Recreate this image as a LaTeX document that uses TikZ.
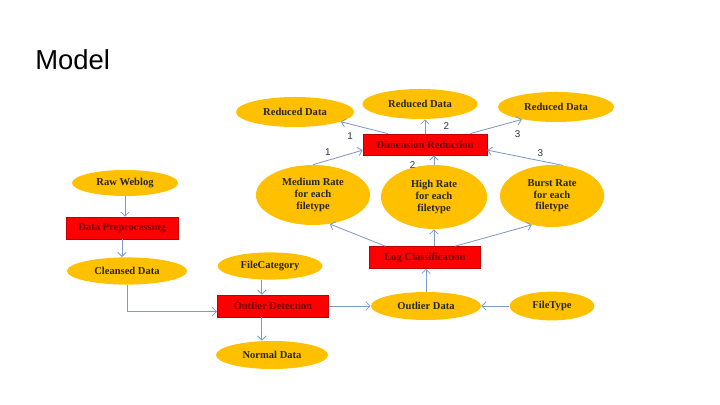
\documentclass[tikz,border=0pt]{standalone}
\usepackage{fontspec}
\setmainfont{Liberation Serif}
\newfontfamily\slidefont{Liberation Sans}
\usetikzlibrary{arrows.meta, shapes.geometric, positioning}
\definecolor{gold}{RGB}{255,192,0}
\definecolor{boxred}{RGB}{255,0,0}
\definecolor{boxtext}{RGB}{110,0,0}
\definecolor{linkblue}{RGB}{126,154,198}

\begin{document}
\begin{tikzpicture}[
        x=0.025cm, y=-0.025cm,
        every node/.style={font=\fontsize{7.5}{8.3}\selectfont\bfseries},
        blob/.style={ellipse, fill=gold, text=black!85, inner sep=0pt, align=center, minimum width=2.8cm, minimum height=0.7cm},
        stage/.style={rectangle, fill=boxred, draw=red!75!black, line width=0.4pt, text=boxtext, inner sep=0pt, minimum width=2.78cm, minimum height=0.55cm},
        arr/.style={-{Straight Barb[length=3pt,width=6pt]}, draw=linkblue, line width=0.6pt},
        num/.style={font=\slidefont\fontsize{7}{8}\selectfont, text=black!80, inner sep=1pt}
    ]
        \useasboundingbox (0,0) rectangle (720,405);
        \node[anchor=base west, inner sep=0pt, font=\slidefont\fontsize{19.5}{23}\selectfont, text=black] (title) at (35,70) {Model};

        % left column
        \node[blob, minimum width=2.65cm, minimum height=0.65cm] (weblog) at (125,183) {Raw Weblog};
        \node[stage, minimum width=2.8cm] (prep) at (122,228) {Data Preprocessing};
        \node[blob, minimum width=3.0cm, minimum height=0.68cm] (cleansed) at (127,271) {Cleansed Data};

        % outlier row
        \node[blob, minimum width=2.62cm, minimum height=0.68cm] (filecat) at (270,266) {FileCategory};
        \node[stage] (outdet) at (273,306) {Outlier Detection};
        \node[blob] (normal) at (272,355) {Normal Data};
        \node[blob, minimum width=2.75cm] (outdata) at (426,306) {Outlier Data};
        \node[blob, minimum width=2.12cm, minimum height=0.72cm] (filetype) at (552,306) {FileType};

        % classification and reduction
        \node[stage] (logcls) at (425,257.5) {Log Classification};
        \node[blob, minimum width=2.85cm, minimum height=1.5cm] (medium) at (313,195) {Medium Rate\\for each\\filetype};
        \node[blob, minimum width=2.65cm, minimum height=1.6cm] (high) at (434,197) {High Rate\\for each\\filetype};
        \node[blob, minimum width=2.6cm, minimum height=1.55cm] (burst) at (552,196) {Burst Rate\\for each\\filetype};
        \node[stage, minimum width=3.1cm, minimum height=0.53cm] (dimred) at (425,144.5) {Dimension Reduction};
        \node[blob, minimum width=2.95cm, minimum height=0.75cm] (redl) at (295,112) {Reduced Data};
        \node[blob, minimum width=2.88cm, minimum height=0.75cm] (redm) at (420,104) {Reduced Data};
        \node[blob, minimum width=2.9cm, minimum height=0.75cm] (redr) at (556,107) {Reduced Data};

        \coordinate (odn) at ([xshift=-0.28cm]outdet.north);
        \coordinate (ods) at ([xshift=-0.28cm]outdet.south);

        \draw[arr] (weblog.south) -- (weblog.south |- prep.north);
        \draw[arr] (prep.south) -- (prep.south |- cleansed.north);
        \draw[arr] (cleansed.south) |- ([yshift=-4pt]outdet.west);
        \draw[arr] (filecat.south -| odn) -- (odn);
        \draw[arr] (ods) -- (normal.north -| ods);
        \draw[arr] (outdet) -- (outdata);
        \draw[arr] (filetype) -- (outdata);
        \draw[arr] (outdata.north) -- (outdata.north |- logcls.south);
        \draw[arr] ([xshift=-0.99cm]logcls.north) -- (medium.-60);
        \draw[arr] (logcls.north -| high) -- (high.south);
        \draw[arr] ([xshift=0.75cm]logcls.north) -- (burst.-125);
        \draw[arr] (medium.north) -- node[num, pos=0.3, above=2pt]{1} ([yshift=-4pt]dimred.west);
        \draw[arr] (high.north) -- node[num, pos=0, left=12pt]{2} (high.north |- dimred.south);
        \draw[arr] (burst.70) -- node[num, pos=0.3, above=2pt]{3} ([yshift=-4pt]dimred.east);
        \draw[arr] ([xshift=-0.93cm]dimred.north) -- node[num, pos=0.8, below=5pt]{1} (redl.-12);
        \draw[arr] (dimred.north) -- node[num, right=12pt]{2} (dimred.north |- redm.south);
        \draw[arr] ([xshift=1.13cm]dimred.north) -- node[num, pos=0.8, below right=5pt and 1pt]{3} (redr.200);
    \end{tikzpicture}
\end{document}
